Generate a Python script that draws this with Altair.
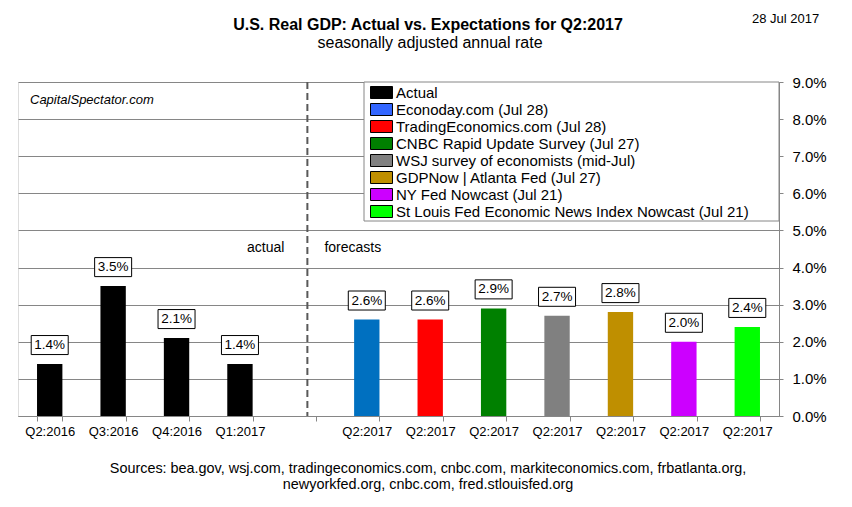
import json
import altair as alt
import pandas as pd

# ---------------- data ----------------
categories = ["Q2:2016", "Q3:2016", "Q4:2016", "Q1:2017", "",
              "Q2:2017", "Q2:2017", "Q2:2017", "Q2:2017", "Q2:2017", "Q2:2017", "Q2:2017"]
values = [1.4, 3.5, 2.1, 1.4, None, 2.6, 2.6, 2.9, 2.7, 2.8, 2.0, 2.4]
series = ["Actual", "Actual", "Actual", "Actual", None,
          "Econoday.com (Jul 28)",
          "TradingEconomics.com (Jul 28)",
          "CNBC Rapid Update Survey (Jul 27)",
          "WSJ survey of economists (mid-Jul)",
          "GDPNow | Atlanta Fed (Jul 27)",
          "NY Fed Nowcast (Jul 21)",
          "St Louis Fed Economic News Index Nowcast (Jul 21)"]
legend_order = ["Actual"] + series[5:]
bar_colors = ["#000000", "#0070C0", "#FF0000", "#008000", "#808080", "#BF8F00", "#CC00FF", "#00FF00"]
legend_colors = ["#000000", "#3366FF", "#FF0000", "#008000", "#808080", "#BF8F00", "#CC00FF", "#00FF00"]
y_ticks = [0, 1, 2, 3, 4, 5, 6, 7, 8, 9]

title_text = "U.S. Real GDP: Actual vs. Expectations for Q2:2017"
subtitle_text = "seasonally adjusted annual rate"
date_text = "28 Jul 2017"
footer_lines = ["Sources: bea.gov, wsj.com, tradingeconomics.com, cnbc.com, markiteconomics.com, frbatlanta.org,",
                "newyorkfed.org, cnbc.com, fred.stlouisfed.org"]
watermark = "CapitalSpectator.com"
gap_slot = 4
annot_level = 4.53

rows = [{"slot": i, "cat": c, "value": v, "series": s}
        for i, (c, v, s) in enumerate(zip(categories, values, series)) if v is not None]
df = pd.DataFrame(rows)

W, H = 761, 334
FONT = "Liberation Sans"
GRID = "#868686"

label_expr = "[" + ",".join(json.dumps(c) for c in categories) + "][datum.value]"

x_scale = alt.Scale(domain=list(range(len(categories))), paddingInner=0.6, paddingOuter=0.3)
x_axis = alt.Axis(title=None, labelExpr=label_expr, labelAngle=0, labelFont=FONT,
                  labelFontSize=13, labelColor="black", tickBand="extent", tickSize=5,
                  tickColor=GRID, domainColor=GRID, labelPadding=4, grid=False)
y_scale = alt.Scale(domain=[0, 9], nice=False)
y_axis = alt.Axis(title=None, orient="right", values=y_ticks, tickCount=len(y_ticks) + 2,
                  labelExpr="format(datum.value, '.1f') + '%'", labelOverlap=False,
                  labelFont=FONT, labelFontSize=15, labelColor="black",
                  tickSize=4, tickColor=GRID, domainColor=GRID, labelPadding=9,
                  grid=True, gridColor=GRID, gridWidth=1)


def X(field="slot:O"):
    return alt.X(field, scale=x_scale, axis=x_axis)


def Y(field="value:Q"):
    return alt.Y(field, scale=y_scale, axis=y_axis)


one = alt.Data(values=[{"k": 1}])

# legend box background
legend_box = alt.Chart(one).mark_rect(fill="white", stroke=GRID, strokeWidth=1).encode(
    x=alt.value(346), x2=alt.value(W), y=alt.value(0), y2=alt.value(139))

bars = alt.Chart(df).mark_bar().encode(
    x=X(), y=Y(),
    color=alt.Color("series:N", scale=alt.Scale(domain=legend_order, range=bar_colors), legend=None))

legend_layer = alt.Chart(df).mark_square(opacity=0).encode(
    x=X(), y=Y(),
    color=alt.Color("series:N", scale=alt.Scale(domain=legend_order, range=legend_colors),
                    legend=alt.Legend(orient="none", legendX=356, legendY=3, title=None,
                                      labelFont=FONT, labelFontSize=15, labelColor="black",
                                      symbolType="M-1.833,-1L1.833,-1L1.833,1L-1.833,1Z",
                                      symbolSize=144, symbolStrokeColor="black",
                                      symbolStrokeWidth=1, symbolOpacity=1, rowPadding=0,
                                      labelOffset=7, padding=0, labelLimit=500)))

label_boxes = alt.Chart(df).mark_point(
    shape="M-1,-0.514L1,-0.514L1,0.514L-1,0.514Z", size=1369, filled=True,
    fill="white", stroke="black", strokeWidth=1, opacity=1, yOffset=-19).encode(
    x=X(), y=Y())

label_text = alt.Chart(df).transform_calculate(
    lbl="format(datum.value, '.1f') + '%'").mark_text(
    font=FONT, fontSize=13.5, color="black", baseline="middle", dy=-19).encode(
    x=X(), y=Y(), text="lbl:N")

divider = alt.Chart(alt.Data(values=[{"slot": gap_slot}])).mark_rule(
    color="#595959", strokeWidth=2, strokeDash=[7, 4], xOffset=4).encode(
    x=X(), y=alt.value(0), y2=alt.value(H))

annot_df = alt.Data(values=[{"slot": gap_slot, "value": annot_level}])
actual_txt = alt.Chart(annot_df).mark_text(text="actual", font=FONT, fontSize=14, align="right",
                                           baseline="middle", dx=-19, color="black").encode(
    x=X(), y=Y())
forecast_txt = alt.Chart(annot_df).mark_text(text="forecasts", font=FONT, fontSize=14, align="left",
                                             baseline="middle", dx=21, color="black").encode(
    x=X(), y=Y())

wm = alt.Chart(one).mark_text(text=watermark, font=FONT, fontSize=13, fontStyle="italic",
                              align="left", baseline="middle", color="black").encode(
    x=alt.value(12), y=alt.value(18))

title = alt.Chart(one).mark_text(text=title_text, font=FONT, fontSize=16, fontWeight="bold",
                                 align="center", baseline="alphabetic", color="black").encode(
    x=alt.value(410), y=alt.value(-52))
subtitle = alt.Chart(one).mark_text(text=subtitle_text, font=FONT, fontSize=16,
                                    align="center", baseline="alphabetic", color="black").encode(
    x=alt.value(412), y=alt.value(-34))
date = alt.Chart(one).mark_text(text=date_text, font=FONT, fontSize=13,
                                align="left", baseline="alphabetic", color="black").encode(
    x=alt.value(734), y=alt.value(-59))
foot1 = alt.Chart(one).mark_text(text=footer_lines[0], font=FONT, fontSize=14.4,
                                 align="center", baseline="alphabetic", color="black").encode(
    x=alt.value(410), y=alt.value(391))
foot2 = alt.Chart(one).mark_text(text=footer_lines[1], font=FONT, fontSize=14.4,
                                 align="center", baseline="alphabetic", color="black").encode(
    x=alt.value(410), y=alt.value(407))

chart = alt.layer(
    legend_box, bars, legend_layer, label_boxes, label_text, divider,
    actual_txt, forecast_txt, wm, title, subtitle, date, foot1, foot2
).resolve_scale(color="independent").properties(
    width=W, height=H,
    autosize=alt.AutoSizeParams(type="none"),
    padding={"left": 10, "top": 74, "right": 65, "bottom": 83},
).configure_view(stroke=GRID, strokeWidth=1).configure(background="white")

chart.save("out.html", embed_options={"renderer": "svg", "actions": False})
